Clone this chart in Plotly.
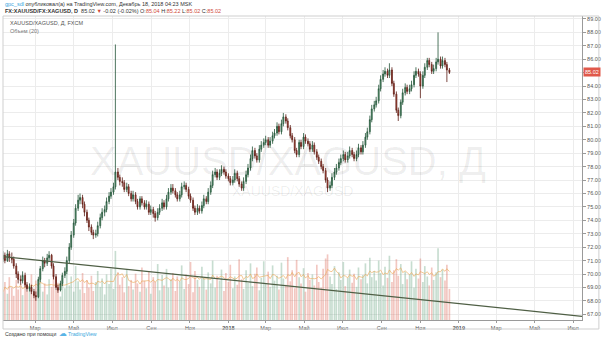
import pandas as pd
import plotly.graph_objects as go

# ---- data: XAUUSD/XAGUSD, two bars per week (Mon / Thu) ----
WEEK_STARTS = pd.date_range("2017-01-09", "2018-12-17", freq="7D")
BAR_DATES = sorted(list(WEEK_STARTS) + list(WEEK_STARTS[:-1] + pd.Timedelta(days=3)))

OPEN = [71.1, 71.4, 71.0, 71.5, 71.2, 71.1, 70.6, 70.0, 69.6, 69.5,
        69.9, 69.2, 68.9, 69.0, 68.7, 68.4, 68.3, 69.6, 70.4, 71.0,
        70.8, 71.2, 71.4, 70.6, 69.8, 69.0, 68.8, 69.3, 69.9, 70.2,
        71.0, 72.0, 72.9, 73.8, 74.9, 75.5, 75.7, 75.2, 74.6, 74.0,
        73.5, 73.1, 72.9, 73.0, 73.6, 74.2, 74.6, 74.8, 75.4, 75.8,
        76.1, 76.5, 77.6, 77.2, 76.9, 76.8, 76.3, 76.5, 76.0, 75.6,
        75.9, 75.4, 75.0, 75.6, 75.3, 75.0, 75.2, 74.6, 74.8, 74.5,
        74.2, 74.6, 74.9, 75.3, 75.0, 75.6, 76.1, 76.4, 76.2, 75.9,
        75.6, 75.9, 76.5, 76.6, 76.3, 75.8, 75.5, 74.9, 74.6, 74.9,
        74.7, 75.1, 75.6, 75.4, 76.1, 76.6, 77.4, 77.6, 77.2, 77.5,
        77.8, 77.6, 77.3, 77.1, 76.8, 77.0, 77.5, 77.1, 76.7, 76.4,
        76.9, 77.4, 77.9, 78.6, 79.2, 78.8, 78.5, 79.3, 79.6, 79.8,
        80.0, 79.6, 79.9, 80.3, 80.5, 81.0, 80.6, 81.2, 81.7, 81.4,
        80.9, 80.3, 80.0, 79.2, 78.9, 79.8, 79.5, 80.2, 79.9, 79.7,
        79.3, 79.6, 79.1, 78.7, 78.4, 78.0, 77.7, 77.0, 76.4, 76.6,
        77.2, 77.6, 77.9, 78.3, 78.6, 78.9, 78.5, 78.8, 79.2, 78.9,
        78.6, 78.9, 79.4, 79.1, 79.6, 80.2, 80.6, 81.5, 82.3, 82.6,
        82.9, 83.8, 84.5, 84.9, 85.1, 84.8, 85.2, 84.2, 83.4, 82.2,
        81.8, 82.8, 83.5, 83.9, 83.6, 83.8, 84.1, 84.8, 85.1, 84.9,
        84.0, 84.8, 85.4, 85.9, 85.6, 85.1, 85.3, 85.8, 86.0, 85.5,
        85.9, 85.6, 85.2]

HIGH = [71.7, 71.6, 71.8, 71.7, 71.6, 71.3, 70.8, 70.2, 69.9, 70.2,
        70.1, 69.4, 69.3, 69.2, 68.9, 68.7, 69.8, 70.6, 71.3, 71.2,
        71.5, 71.7, 71.5, 70.8, 70.0, 69.2, 69.5, 70.1, 70.5, 71.3,
        72.3, 73.2, 74.1, 75.2, 75.9, 76.0, 75.9, 75.4, 74.8, 74.2,
        73.7, 73.3, 73.3, 73.9, 74.5, 74.9, 75.1, 75.7, 76.1, 76.4,
        76.8, 87.1, 77.9, 77.4, 77.2, 77.0, 76.8, 76.7, 76.2, 76.2,
        76.1, 75.6, 75.8, 75.8, 75.5, 75.5, 75.4, 75.1, 75.0, 74.7,
        74.9, 75.2, 75.6, 75.5, 75.9, 76.4, 76.7, 76.7, 76.4, 76.1,
        76.2, 76.8, 76.9, 76.8, 76.5, 76.0, 75.7, 75.1, 75.2, 75.1,
        75.4, 75.9, 75.8, 76.4, 76.9, 77.7, 77.9, 77.8, 77.8, 78.1,
        78.0, 77.8, 77.5, 77.3, 77.3, 77.8, 77.7, 77.3, 76.9, 77.2,
        77.7, 78.2, 78.9, 79.5, 79.4, 79.0, 79.6, 79.9, 80.1, 80.3,
        80.2, 80.2, 80.6, 80.8, 81.3, 81.2, 81.5, 82.0, 81.9, 81.6,
        81.1, 80.5, 80.2, 79.4, 80.0, 80.0, 80.5, 80.4, 80.1, 79.9,
        79.9, 79.8, 79.3, 78.9, 78.6, 78.2, 77.9, 77.2, 76.9, 77.5,
        77.9, 78.2, 78.6, 78.9, 79.2, 79.1, 79.1, 79.5, 79.4, 79.1,
        79.2, 79.7, 79.6, 79.9, 80.5, 80.9, 81.8, 82.6, 82.9, 83.2,
        84.1, 84.8, 85.2, 85.4, 85.3, 85.7, 85.4, 84.4, 83.6, 82.4,
        83.0, 83.8, 84.2, 84.1, 84.1, 84.4, 85.1, 85.4, 85.3, 85.1,
        85.1, 85.7, 86.1, 86.1, 85.8, 85.6, 86.1, 88.0, 86.2, 86.2,
        86.1, 85.8, 85.35]

LOW = [70.9, 70.8, 70.9, 70.9, 70.8, 70.4, 69.7, 69.3, 69.2, 69.3,
       69.0, 68.7, 68.7, 68.5, 68.2, 68.0, 68.2, 69.4, 70.2, 70.5,
       70.6, 71.0, 70.4, 69.6, 68.8, 68.6, 68.7, 69.1, 69.7, 70.0,
       70.8, 71.8, 72.7, 73.6, 74.7, 75.2, 74.9, 74.3, 73.8, 73.2,
       72.9, 72.6, 72.7, 72.8, 73.4, 74.0, 74.3, 74.6, 75.2, 75.6,
       75.9, 76.3, 77.0, 76.6, 76.5, 76.1, 76.1, 75.8, 75.4, 75.4,
       75.2, 74.8, 74.8, 75.1, 74.8, 74.8, 74.4, 74.4, 74.2, 73.9,
       74.0, 74.4, 74.7, 74.8, 74.8, 75.4, 75.9, 76.0, 75.7, 75.4,
       75.4, 75.7, 76.3, 76.1, 75.6, 75.3, 74.7, 74.4, 74.4, 74.5,
       74.5, 74.9, 75.2, 75.2, 75.9, 76.4, 77.2, 77.0, 77.0, 77.3,
       77.4, 77.1, 76.9, 76.6, 76.6, 76.8, 76.9, 76.5, 76.2, 76.2,
       76.7, 77.2, 77.7, 78.4, 78.6, 78.3, 78.3, 79.1, 79.4, 79.6,
       79.4, 79.4, 79.7, 80.1, 80.3, 80.4, 80.4, 81.0, 81.2, 80.7,
       80.1, 79.8, 79.0, 78.7, 78.7, 79.3, 79.3, 79.7, 79.5, 79.1,
       79.1, 78.9, 78.5, 78.2, 77.8, 77.5, 76.8, 76.1, 76.2, 76.4,
       77.0, 77.4, 77.7, 78.1, 78.4, 78.3, 78.3, 78.6, 78.7, 78.4,
       78.4, 78.7, 78.9, 78.9, 79.4, 80.0, 80.4, 81.3, 82.1, 82.4,
       82.7, 83.6, 84.3, 84.7, 84.6, 84.6, 84.0, 83.2, 82.0, 81.4,
       81.6, 82.6, 83.3, 83.4, 83.4, 83.6, 83.9, 84.6, 84.7, 83.1,
       83.8, 84.6, 85.2, 85.4, 84.9, 84.9, 85.1, 85.6, 85.3, 85.3,
       85.4, 84.3, 84.9]

CLOSE = [71.4, 71.0, 71.5, 71.2, 71.1, 70.6, 70.0, 69.6, 69.5, 69.9,
         69.2, 68.9, 69.0, 68.7, 68.4, 68.3, 69.6, 70.4, 71.0, 70.8,
         71.2, 71.4, 70.6, 69.8, 69.0, 68.8, 69.3, 69.9, 70.2, 71.0,
         72.0, 72.9, 73.8, 74.9, 75.5, 75.7, 75.2, 74.6, 74.0, 73.5,
         73.1, 72.9, 73.0, 73.6, 74.2, 74.6, 74.8, 75.4, 75.8, 76.1,
         76.5, 77.6, 77.2, 76.9, 76.8, 76.3, 76.5, 76.0, 75.6, 75.9,
         75.4, 75.0, 75.6, 75.3, 75.0, 75.2, 74.6, 74.8, 74.5, 74.2,
         74.6, 74.9, 75.3, 75.0, 75.6, 76.1, 76.4, 76.2, 75.9, 75.6,
         75.9, 76.5, 76.6, 76.3, 75.8, 75.5, 74.9, 74.6, 74.9, 74.7,
         75.1, 75.6, 75.4, 76.1, 76.6, 77.4, 77.6, 77.2, 77.5, 77.8,
         77.6, 77.3, 77.1, 76.8, 77.0, 77.5, 77.1, 76.7, 76.4, 76.9,
         77.4, 77.9, 78.6, 79.2, 78.8, 78.5, 79.3, 79.6, 79.8, 80.0,
         79.6, 79.9, 80.3, 80.5, 81.0, 80.6, 81.2, 81.7, 81.4, 80.9,
         80.3, 80.0, 79.2, 78.9, 79.8, 79.5, 80.2, 79.9, 79.7, 79.3,
         79.6, 79.1, 78.7, 78.4, 78.0, 77.7, 77.0, 76.4, 76.6, 77.2,
         77.6, 77.9, 78.3, 78.6, 78.9, 78.5, 78.8, 79.2, 78.9, 78.6,
         78.9, 79.4, 79.1, 79.6, 80.2, 80.6, 81.5, 82.3, 82.6, 82.9,
         83.8, 84.5, 84.9, 85.1, 84.8, 85.2, 84.2, 83.4, 82.2, 81.8,
         82.8, 83.5, 83.9, 83.6, 83.8, 84.1, 84.8, 85.1, 84.9, 84.0,
         84.8, 85.4, 85.9, 85.6, 85.1, 85.3, 85.8, 86.0, 85.5, 85.9,
         85.6, 85.2, 85.02]

VOLUME = [40, 55, 38, 62, 47, 35, 58, 44, 52, 36, 60, 42, 49, 66, 39, 57, 45, 70, 41, 53,
          37, 59, 48, 65, 43, 54, 34, 61, 46, 72, 50, 63, 41, 78, 56, 44, 68, 39, 58, 47,
          64, 42, 55, 71, 48, 60, 37, 66, 52, 74, 45, 100, 69, 51, 62, 40, 73, 49, 58, 44,
          67, 53, 41, 76, 57, 46, 70, 38, 62, 55, 81, 43, 65, 50, 74, 47, 59, 68, 42, 63,
          56, 79, 45, 66, 52, 84, 40, 71, 58, 48, 77, 61, 44, 69, 53, 86, 47, 64, 57, 73,
          42, 68, 55, 80, 46, 63, 51, 88, 59, 45, 72, 54, 82, 49, 67, 76, 43, 61, 85, 52,
          70, 48, 79, 57, 64, 44, 83, 60, 51, 91, 56, 72, 46, 87, 62, 53, 75, 41, 68, 58,
          66, 50, 80, 55, 47, 74, 89, 95, 63, 52, 78, 45, 69, 58, 84, 49, 61, 73, 54, 67,
          48, 76, 59, 65, 82, 53, 90, 62, 71, 57, 86, 68, 50, 77, 61, 93, 55, 72, 88, 64,
          81, 52, 70, 59, 66, 85, 47, 74, 60, 89, 55, 78, 63, 50, 76, 58, 69, 104, 62, 73,
          57, 80, 45]
VOLUME_MA_WINDOW = 6

# trend line drawn on the chart
TREND_DATES = ["2017-01-09", "2019-07-15"]
TREND_VALUES = [71.3, 66.85]

LAST_PRICE = CLOSE[-1]

# time axis labels
TICK_DATES = ["2017-03-01", "2017-05-01", "2017-07-01", "2017-09-01", "2017-11-01",
              "2018-01-01", "2018-03-01", "2018-05-01", "2018-07-01", "2018-09-01",
              "2018-11-01", "2019-01-01", "2019-03-01", "2019-05-01", "2019-07-01"]
TICK_TEXT = ["Мар", "Май", "Июл", "Сен", "Ноя", "<b>2018</b>", "Мар", "Май", "Июл",
             "Сен", "Ноя", "<b>2019</b>", "Мар", "Май", "Июл"]
PRICE_TICKS = list(range(67, 90))

# ---- figure ----
W, H = 604, 343
ML, MR, MT, MB = 3, 18, 16, 23
PW, PH = W - ML - MR, H - MT - MB


def px(x):
    return (x - ML) / PW


def py(y):
    return (H - MB - y) / PH


FONT = "Liberation Sans, Arial, sans-serif"
UP_FILL, UP_LINE = "#6ba583", "#225437"
DN_FILL, DN_LINE = "#d75442", "#5b1a13"

vol_colors = ["rgba(107,165,131,0.38)" if c >= o else "rgba(215,84,66,0.33)"
              for o, c in zip(OPEN, CLOSE)]
vol_ma = pd.Series(VOLUME).rolling(VOLUME_MA_WINDOW, min_periods=1).mean()

# price scale labels; the one under the last-price marker is left blank
price_text = ["" if abs(v - LAST_PRICE) < 0.5 else f"{v:.2f}" for v in PRICE_TICKS]

fig = go.Figure()

fig.add_trace(go.Bar(x=BAR_DATES, y=VOLUME, marker_color=vol_colors,
                     marker_line_width=0, yaxis="y", hoverinfo="skip"))
fig.add_trace(go.Scatter(x=BAR_DATES, y=vol_ma, mode="lines", yaxis="y",
                         line=dict(color="rgba(235,170,90,0.65)", width=1),
                         hoverinfo="skip"))
fig.add_trace(go.Candlestick(
    x=BAR_DATES, open=OPEN, high=HIGH, low=LOW, close=CLOSE, yaxis="y2",
    increasing=dict(fillcolor=UP_FILL, line=dict(color=UP_LINE, width=0.8)),
    decreasing=dict(fillcolor=DN_FILL, line=dict(color=DN_LINE, width=0.8)),
    whiskerwidth=0))
fig.add_trace(go.Scatter(x=TREND_DATES, y=TREND_VALUES, mode="lines", yaxis="y2",
                         line=dict(color="#4f5f45", width=1.2), hoverinfo="skip"))

GRID = "#ececec"
fig.update_layout(
    width=W, height=H,
    margin=dict(l=ML, r=MR, t=MT, b=MB, pad=0),
    paper_bgcolor="white", plot_bgcolor="white",
    showlegend=False, bargap=0.12,
    font=dict(family=FONT, size=6, color="#555"),
    xaxis=dict(type="date", range=["2017-01-09", "2019-07-15"],
               rangeslider=dict(visible=False),
               tickvals=TICK_DATES, ticktext=TICK_TEXT, tickangle=0,
               showgrid=True, gridcolor=GRID, gridwidth=1,
               showline=True, linecolor="#9a9a9a", linewidth=1,
               ticks="outside", ticklen=2, tickcolor="#9a9a9a",
               tickfont=dict(size=5.5, color="#555"), zeroline=False),
    yaxis=dict(range=[0, 440], visible=False, showgrid=False, fixedrange=True),
    yaxis2=dict(overlaying="y", side="right", range=[66.575, 89.22],
                tickvals=PRICE_TICKS, ticktext=price_text,
                showgrid=True, gridcolor=GRID, gridwidth=1,
                showline=True, linecolor="#9a9a9a", linewidth=1,
                ticks="outside", ticklen=3, tickcolor="#9a9a9a",
                tickfont=dict(size=5.5, color="#555"), zeroline=False),
)

# outer frame around chart, time scale and price scale
fig.add_shape(type="rect", xref="paper", yref="paper",
              x0=0, x1=px(603), y0=py(329), y1=1,
              line=dict(color="#cfcfcf", width=1), fillcolor="rgba(0,0,0,0)",
              layer="above")

# watermark
fig.add_annotation(text="XAUUSD/XAGUSD, Д", xref="paper", yref="paper",
                   x=px(290), y=py(161), showarrow=False,
                   font=dict(size=40, color="rgba(0,0,0,0.065)", family=FONT))
fig.add_annotation(text="XAUUSD/XAGUSD", xref="paper", yref="paper",
                   x=px(295), y=py(191), showarrow=False,
                   font=dict(size=14, color="rgba(0,0,0,0.07)", family=FONT))

# header lines
fig.add_annotation(
    text='<span style="color:#3aa6dd">gpc_sdl</span> опубликовал(а) на TradingView.com, '
         'Декабрь 18, 2018 04:23 MSK',
    xref="paper", yref="paper", x=px(3), y=py(4), xanchor="left", yanchor="middle",
    showarrow=False, font=dict(size=5.5, color="#333", family=FONT))
RED = "#d04a3a"
fig.add_annotation(
    text=f'<b>FX:XAUUSD/FX:XAGUSD, D</b>  {LAST_PRICE:.2f} '
         f'<span style="color:{RED}">▼</span> -0.02 (-0.02%) '
         f'O:<span style="color:{RED}">85.04</span> H:<span style="color:{RED}">85.22</span> '
         f'L:<span style="color:{RED}">85.02</span> C:<span style="color:{RED}">{LAST_PRICE:.2f}</span>',
    xref="paper", yref="paper", x=px(3), y=py(11), xanchor="left", yanchor="middle",
    showarrow=False, font=dict(size=5.5, color="#333", family=FONT))

# legend texts inside the pane
fig.add_annotation(text="XAUUSD/XAGUSD, Д, FXCM", xref="paper", yref="paper",
                   x=px(8), y=py(23), xanchor="left", yanchor="middle", showarrow=False,
                   font=dict(size=5.5, color="#555", family=FONT))
fig.add_annotation(text="Объем (20)", xref="paper", yref="paper",
                   x=px(8), y=py(31), xanchor="left", yanchor="middle", showarrow=False,
                   font=dict(size=5.5, color="#777", family=FONT))

# last price marker on the price scale
fig.add_annotation(text=f"{LAST_PRICE:.2f}", xref="paper", yref="y2",
                   x=px(587), y=LAST_PRICE, xanchor="left", yanchor="middle",
                   showarrow=False, bgcolor="#e0584a", borderpad=1,
                   font=dict(size=5.5, color="white", family=FONT))

# footer
fig.add_annotation(text="Создано при помощи", xref="paper", yref="paper",
                   x=px(3), y=py(334), xanchor="left", yanchor="middle", showarrow=False,
                   font=dict(size=5.2, color="#333", family=FONT))
fig.add_annotation(text="☁", xref="paper", yref="paper",
                   x=px(57), y=py(333), xanchor="left", yanchor="middle", showarrow=False,
                   font=dict(size=8, color="#5ab4e6", family="DejaVu Sans"))
fig.add_annotation(text="TradingView", xref="paper", yref="paper",
                   x=px(66), y=py(334), xanchor="left", yanchor="middle", showarrow=False,
                   font=dict(size=5.2, color="#3aa6dd", family=FONT))

fig.write_html("out.html")
